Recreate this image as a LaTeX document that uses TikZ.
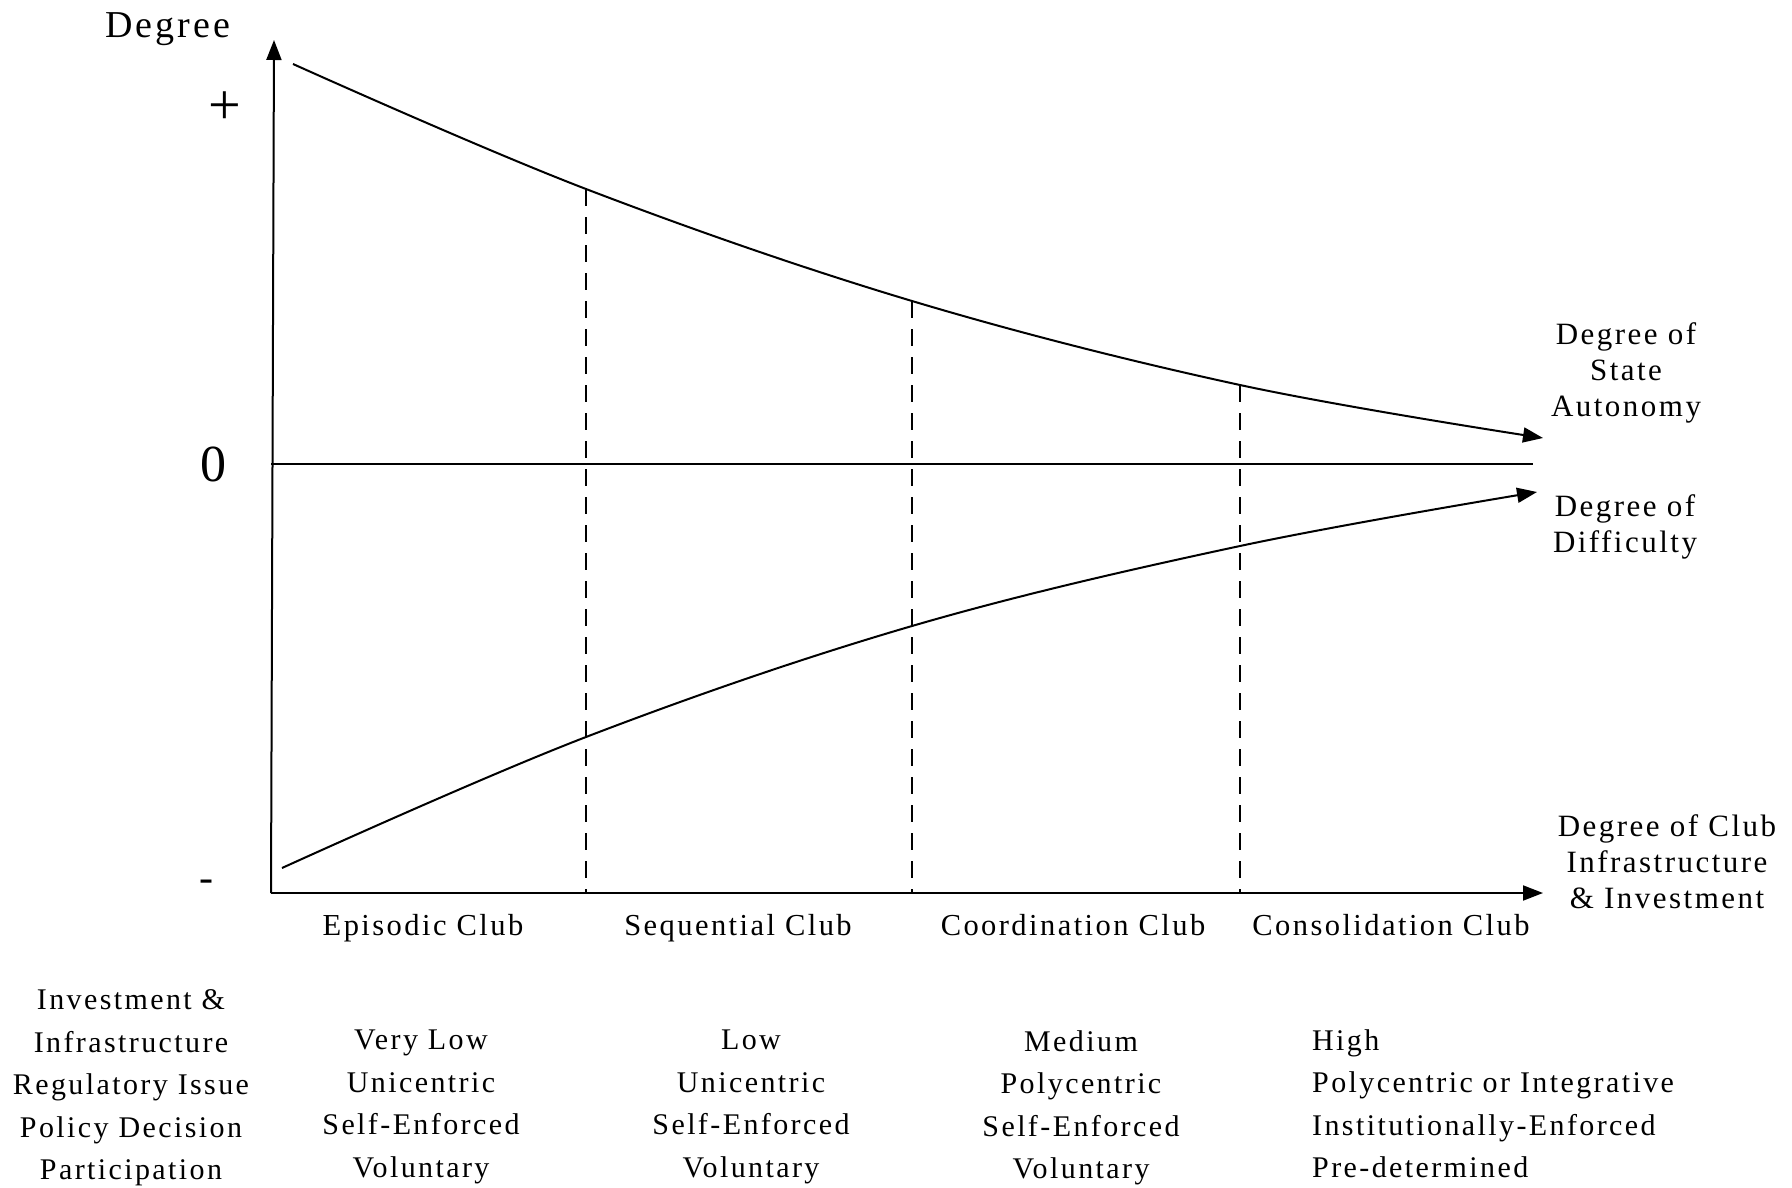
\documentclass[tikz,border=0pt]{standalone}
\usepackage{fontspec}
\setmainfont{Liberation Serif}[LetterSpace=8]
\usetikzlibrary{arrows.meta}
\tikzset{
  axis/.style={line width=2pt, -{Triangle[length=20pt,width=15pt]}},
  curve/.style={line width=2pt, -{Triangle[length=20pt,width=15pt]}},
  guide/.style={line width=1.8pt, dash pattern=on 17pt off 11pt},
  zero/.style={line width=1.6pt},
  lbl/.style={inner sep=0pt, font=\fontsize{30}{42.5}\selectfont, align=center, anchor=north},
  rlbl/.style={inner sep=0pt, font=\fontsize{31}{36}\selectfont, align=center},
  club/.style={inner sep=0pt, font=\fontsize{30.5}{34}\selectfont, anchor=base},
}
\begin{document}
\begin{tikzpicture}[x=1pt,y=-1pt]
\useasboundingbox (0,0) rectangle (1792,1188);
% axes
\coordinate (o) at (271,893);
\coordinate (ytop) at (274,40);
\coordinate (xend) at (1543,893);
\draw[axis] (o) -- (ytop);
\draw[axis] (o) -- (xend);
\coordinate (z0) at (271,464);
\coordinate (z1) at (1533,464);
\draw[zero] (z0) -- (z1);
% curve points
\coordinate (a0) at (293,64);
\coordinate (a1) at (586,189);
\coordinate (a2) at (912,301);
\coordinate (a3) at (1240,385);
\coordinate (a4) at (1543,438);
\coordinate (b0) at (282,868);
\coordinate (b1) at (586,737);
\coordinate (b2) at (912,626);
\coordinate (b3) at (1240,546);
\coordinate (b4) at (1537,492);
\draw[curve] plot[smooth, tension=0.6] coordinates {(a0) (a1) (a2) (a3) (a4)};
\draw[curve] plot[smooth, tension=0.6] coordinates {(b0) (b1) (b2) (b3) (b4)};
% dashed guides
\coordinate (d1) at (586,893);
\coordinate (d2) at (912,893);
\coordinate (d3) at (1240,893);
\draw[guide] (a1) -- (d1);
\draw[guide] (a2) -- (d2);
\draw[guide] (a3) -- (d3);
% axis labels
\node[inner sep=0pt, font=\fontsize{38}{40}\selectfont] (deg) at (168,29.5) {Degree};
\node[inner sep=0pt, font=\fontsize{58}{60}\selectfont] (plus) at (225,108.5) {+};
\node[inner sep=0pt, font=\fontsize{52}{54}\selectfont] (zero) at (213,464) {0};
\node[inner sep=0pt, font=\fontsize{42}{44}\selectfont] (minus) at (206,885.5) {-};
% right labels
\node[rlbl] (sa) at (1626,373) {Degree of\\State\\Autonomy};
\node[rlbl] (df) at (1625,526.5) {Degree of\\Difficulty};
\node[rlbl] (ci) at (1667,862) {Degree of Club\\Infrastructure\\\& Investment};
% club labels
\node[club] (c1) at (423,935) {Episodic Club};
\node[club] (c2) at (738,935) {Sequential Club};
\node[club] (c3) at (1073,935) {Coordination Club};
\node[club] (c4) at (1391,935) {Consolidation Club};
% table
\node[lbl] (t0) at (131,989.5) {Investment \&\\Infrastructure\\Regulatory Issue\\Policy Decision\\Participation};
\node[lbl] (t1) at (421,1030) {Very Low\\Unicentric\\Self-Enforced\\Voluntary};
\node[lbl] (t2) at (751,1030) {Low\\Unicentric\\Self-Enforced\\Voluntary};
\node[lbl] (t3) at (1081,1030) {Medium\\Polycentric\\Self-Enforced\\Voluntary};
\node[lbl, align=left, anchor=north west] (t4) at (1312,1029) {High\\Polycentric or Integrative\\Institutionally-Enforced\\Pre-determined};
\end{tikzpicture}
\end{document}
